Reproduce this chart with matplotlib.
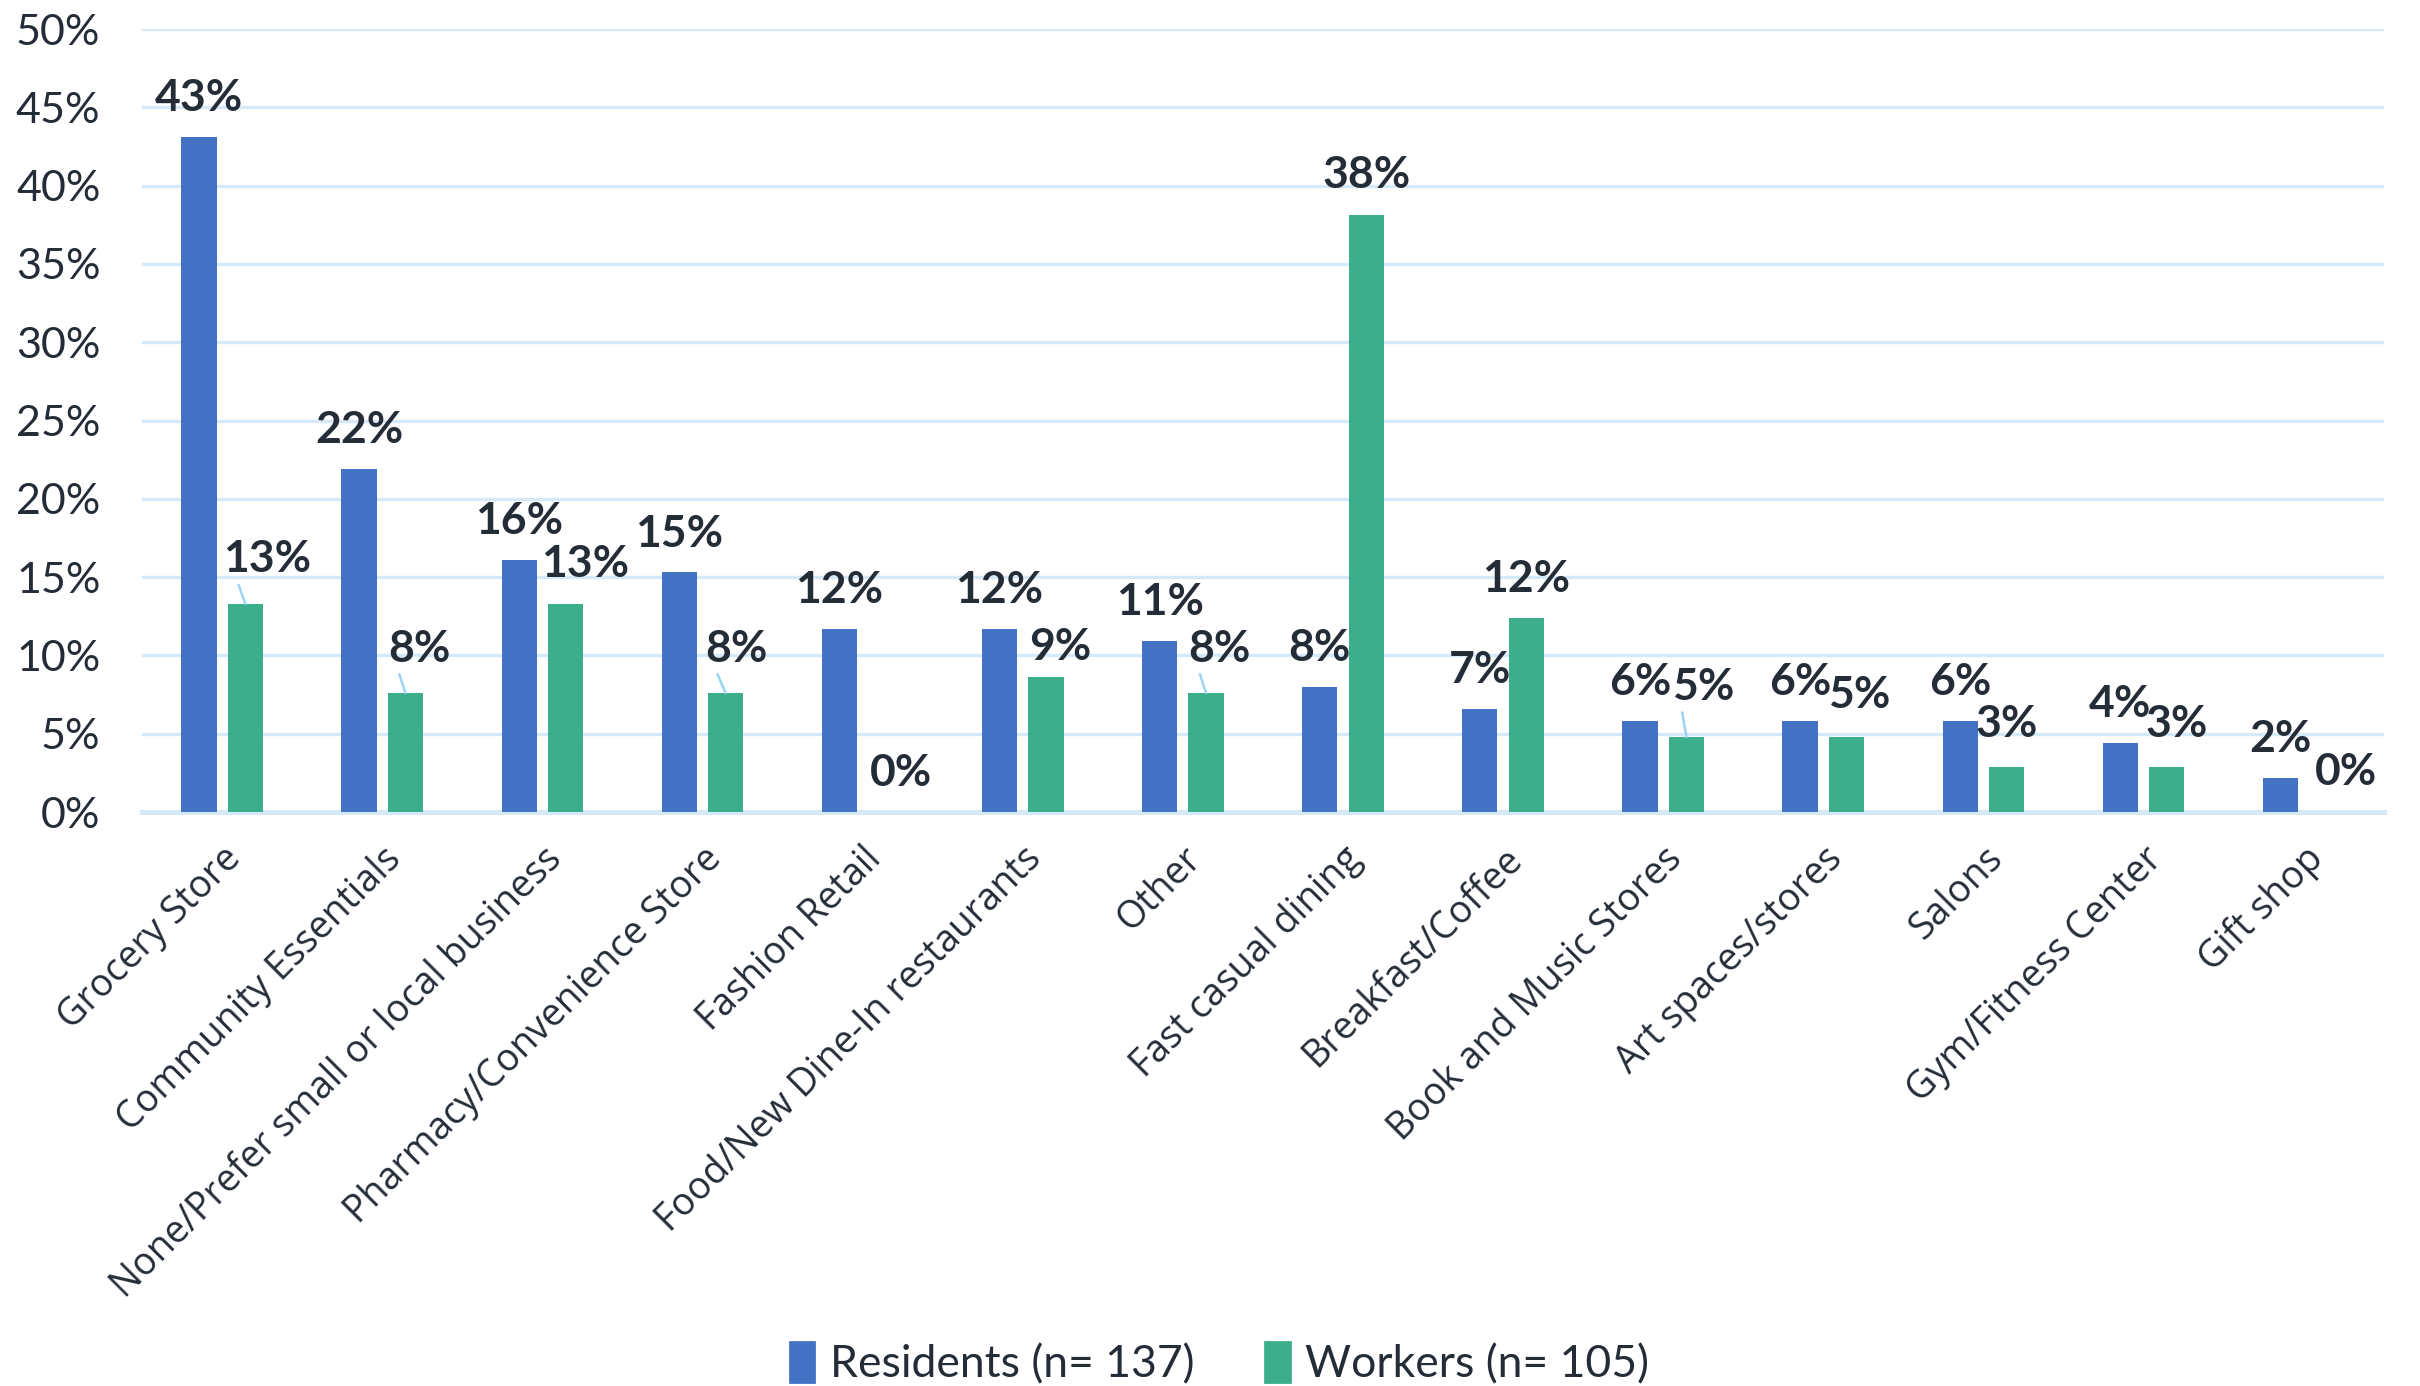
import matplotlib
matplotlib.use('Agg')
import matplotlib.pyplot as plt
import numpy as np
from matplotlib.patches import Patch

categories = ['Grocery Store', 'Community Essentials', 'None/Prefer small or local business',
              'Pharmacy/Convenience Store', 'Fashion Retail', 'Food/New Dine-In restaurants',
              'Other', 'Fast casual dining', 'Breakfast/Coffee', 'Book and Music Stores',
              'Art spaces/stores', 'Salons', 'Gym/Fitness Center', 'Gift shop']
residents = [43.1, 21.9, 16.1, 15.3, 11.7, 11.7, 10.9, 8.0, 6.6, 5.8, 5.8, 5.8, 4.4, 2.2]
workers = [13.3, 7.6, 13.3, 7.6, 0.0, 8.6, 7.6, 38.1, 12.4, 4.8, 4.8, 2.9, 2.9, 0.0]
series_names = ['Residents (n= 137)', 'Workers (n= 105)']
yticks = [0, 5, 10, 15, 20, 25, 30, 35, 40, 45, 50]

# label nudges for the workers series (points), plus which ones get a leader line
worker_nudge = [(8, 16), (5, 16), (7, 14.5), (4, 16), (5.5, 14), (5, 11), (5, 16),
                (0, 14.5), (0, 14), (6, 18), (4.5, 15), (0, 15.5), (3.5, 15.5), (7, 14.5)]
worker_leader = [True, True, False, True, False, False, True,
                 False, False, True, False, False, False, False]

BLUE = '#4472C4'
GREEN = '#3DAE8C'
TEXT = '#242C38'
GRID = '#D5E9F8'
NARROW = ['Lato', 'DejaVu Sans']

fig = plt.figure(figsize=(12.1, 6.93), dpi=200)
ax = fig.add_axes([0.0587, 0.4141, 0.9263, 0.5649])

x = np.arange(len(categories))
w = 0.22
off = 0.145
ax.bar(x - off, residents, w, color=BLUE, zorder=3)
ax.bar(x + off, workers, w, color=GREEN, zorder=3)

ax.set_xlim(-0.5, len(categories) - 0.5)
ax.set_ylim(0, 50)
ax.set_yticks(yticks)
ax.set_yticklabels([f'{t}%' for t in yticks], family=NARROW, fontsize=15.5, color=TEXT)
ax.tick_params(axis='y', length=0, pad=15)
ax.tick_params(axis='x', length=0, pad=10)
ax.set_xticks(x)
ax.set_xticklabels(categories, rotation=45, ha='right', va='top', rotation_mode='anchor',
                   family=['Open Sans', 'DejaVu Sans'], fontsize=13.5, color=TEXT)

ax.grid(axis='y', color=GRID, lw=1.2, zorder=0)
for s in ['top', 'right', 'left']:
    ax.spines[s].set_visible(False)
ax.spines['bottom'].set_color(GRID)
ax.spines['bottom'].set_linewidth(1.8)

for i, v in enumerate(residents):
    ax.annotate(f'{v:.0f}%', xy=(x[i] - off, v), xytext=(0, 14), textcoords='offset points',
                ha='center', va='center', fontsize=16, fontweight='bold',
                family=NARROW, color=TEXT, zorder=5)

for i, v in enumerate(workers):
    dx, dy = worker_nudge[i]
    props = None
    if worker_leader[i]:
        props = dict(arrowstyle='-', color='#9DD3F5', lw=0.9, relpos=(0.15, 0.0),
                     shrinkA=0, shrinkB=0)
    ax.annotate(f'{v:.0f}%', xy=(x[i] + off, v), xytext=(dx, dy), textcoords='offset points',
                ha='center', va='center', fontsize=16, fontweight='bold',
                family=NARROW, color=TEXT, zorder=5, arrowprops=props)

handles = [Patch(color=BLUE), Patch(color=GREEN)]
fig.legend(handles, series_names, loc='center', bbox_to_anchor=(0.504, 0.016), ncol=2,
           frameon=False, handlelength=0.55, handleheight=1.0, handletextpad=0.35,
           columnspacing=1.6, prop=dict(family=NARROW, size=16))
for t in fig.legends[0].get_texts():
    t.set_color(TEXT)

fig.savefig('out.png', dpi=200)
